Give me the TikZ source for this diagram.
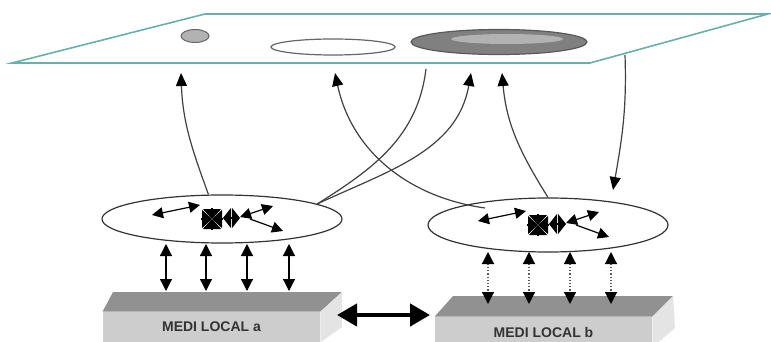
\documentclass[tikz,border=0pt]{standalone}
\usepackage{fontspec}
\setsansfont{Liberation Sans}
\usetikzlibrary{arrows.meta,shapes.geometric}

\definecolor{planeteal}{RGB}{105,175,170}
\definecolor{topgrey}{RGB}{145,145,145}
\definecolor{frontgrey}{RGB}{205,205,205}
\definecolor{sidegrey}{RGB}{228,228,228}

\tikzset{
  plane/.style={draw=planeteal, line width=0.8pt, fill=white},
  ell/.style={draw, ellipse, inner sep=0pt, line width=0.6pt, draw=black!80},
  link/.style={line width=0.6pt, draw=black!75},
  tip/.style={-{Triangle[length=6.5pt,width=5.5pt,color=black]}},
  inner/.style={line width=0.6pt, {Triangle[length=5.5pt,width=5.5pt]}-{Triangle[length=5.5pt,width=5.5pt]}},
  head/.style={line width=0.6pt, -{Triangle[length=5.5pt,width=5.5pt]}},
  blob/.style={line width=0.6pt, -{Triangle[length=5pt,width=9pt]}},
  kite/.style={line width=0.6pt, {Triangle[length=4pt,width=10pt]}-{Triangle[length=4pt,width=10pt]}},
  updown/.style={line width=0.6pt, {Triangle[length=6pt,width=6pt,color=black]}-{Triangle[length=6pt,width=6pt,color=black]}},
  dotlink/.style={updown, densely dotted, draw=black!65},
  front/.style={fill=frontgrey, minimum width=108.5pt, minimum height=15pt, inner sep=0pt,
    text=black!80, font=\sffamily\bfseries\fontsize{7}{8}\selectfont},
  boxtop/.style={fill=topgrey},
  boxside/.style={fill=sidegrey}
}

\begin{document}
\begin{tikzpicture}[x=0.5pt,y=0.5pt]
\useasboundingbox (0,0) rectangle (771,-342);

% the plane with its spots
\draw[plane] (12,-63) -- (205,-14) -- (768,-14) -- (590,-63) -- cycle;
\draw[fill=black!30, draw=black!60, line width=0.5pt] (195,-36) ellipse [x radius=14, y radius=6.5];
\draw[draw=black!60, line width=0.6pt] (333,-47) ellipse [x radius=62, y radius=8];
\draw[fill=black!50, draw=black!65, line width=0.6pt] (499,-42) ellipse [x radius=88, y radius=12.5];
\fill[black!30] (507,-39) ellipse [x radius=56, y radius=5];

% points on the plane
\coordinate (pa) at (181,-73);
\coordinate (pb) at (335,-73);
\coordinate (pc) at (471,-73);
\coordinate (pd) at (502,-73);
\coordinate (pe) at (426,-69);
\coordinate (pf) at (625,-55);

% the two local ellipses
\node[ell, minimum width=120pt, minimum height=24pt] (ea) at (222,-219) {};
\node[ell, minimum width=120pt, minimum height=27pt] (eb) at (548,-225) {};
\coordinate (qb) at (485,-208);
\coordinate (qf) at (613,-190);

% links to and from the plane
\draw[link,tip] (ea.119) to[out=110,in=-88] (pa);
\draw[link,tip] (ea.9) to[out=25,in=-100] (pc);
\draw[link] (ea.9) to[out=32,in=-97] (pe);
\draw[link,tip] (qb) to[out=172,in=-78] (pb);
\draw[link,tip] (eb.90) to[out=122,in=-85] (pd);
\draw[link,tip] (pf) to[out=-88,in=80] (qf);

% arrows inside each ellipse
\foreach \e in {ea,eb} {
  \begin{scope}[shift={(\e.center)}]
    \draw[inner] (-70,4) -- (-22,14);
    \draw[blob] (-10,11) -- (-10,0);
    \draw[blob] (-10,-11) -- (-10,0);
    \draw[blob] (-21,0) -- (-10,0);
    \draw[blob] (1,0) -- (-10,0);
    \draw[kite] (1,1) -- (18,1);
    \draw[inner] (18,2) -- (51,13);
    \draw[head] (28,0) -- (61,-12);
  \end{scope}
}

% local media
\node[front] (ma) at (211.5,-327) {MEDI LOCAL a};
\fill[boxtop] (ma.north west) -- (113,-292) -- (342,-292) -- (ma.north east) -- cycle;
\fill[boxside] (ma.north east) -- (342,-292) -- (342,-327) -- (ma.south east) -- cycle;

\node[front] (mb) at (543.5,-332) {MEDI LOCAL b};
\fill[boxtop] (mb.north west) -- (453,-296) -- (673,-296) -- (mb.north east) -- cycle;
\fill[boxside] (mb.north east) -- (673,-296) -- (675,-328) -- (mb.south east) -- cycle;

% ellipse to medium
\foreach \x [count=\i] in {166,206,247,289} {
  \coordinate (ua\i) at (\x,-244);
  \coordinate (da\i) at (\x,-291);
  \draw[updown] (ua\i) -- (da\i);
}
\foreach \x [count=\i] in {488,529,570,611} {
  \coordinate (ub\i) at (\x,-252);
  \coordinate (db\i) at (\x,-304);
  \draw[dotlink] (ub\i) -- (db\i);
}

% between the two media
\coordinate (ga) at (337,-315);
\coordinate (gb) at (430,-315);
\draw[line width=2.2pt, {Triangle[length=10pt,width=11pt]}-{Triangle[length=10pt,width=11pt]}] (ga) -- (gb);
\end{tikzpicture}
\end{document}
